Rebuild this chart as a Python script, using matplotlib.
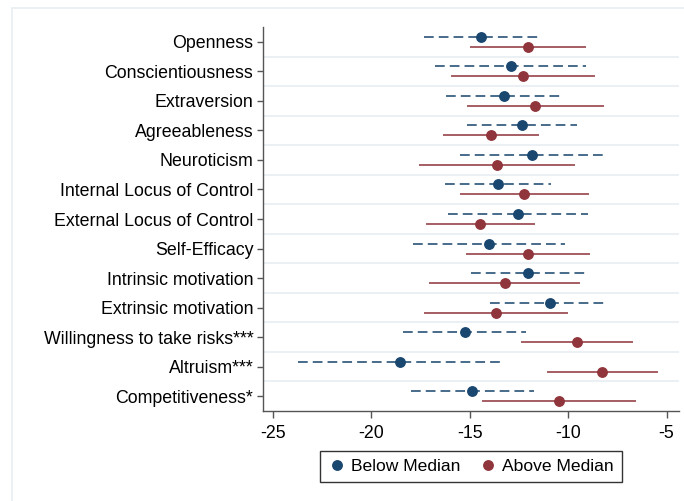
import matplotlib
matplotlib.use("Agg")
import matplotlib.pyplot as plt
from matplotlib.patches import Rectangle
from matplotlib.lines import Line2D

plt.rcParams['font.family'] = ['Liberation Sans', 'DejaVu Sans']

# traits, top to bottom
traits = ["Openness", "Conscientiousness", "Extraversion", "Agreeableness",
          "Neuroticism", "Internal Locus of Control", "External Locus of Control",
          "Self-Efficacy", "Intrinsic motivation", "Extrinsic motivation",
          "Willingness to take risks***", "Altruism***", "Competitiveness*"]

# below median: estimate, ci low, ci high
below = [-14.43, -12.92, -13.26, -12.35, -11.84, -13.58, -12.57,
         -14.04, -12.03, -10.94, -15.26, -18.55, -14.89]
below_lo = [-17.33, -16.77, -16.23, -15.16, -15.50, -16.25, -16.09,
            -17.90, -14.96, -13.97, -18.41, -23.71, -17.97]
below_hi = [-11.50, -9.10, -10.37, -9.54, -8.18, -10.89, -9.00,
            -10.18, -9.13, -8.10, -12.13, -13.40, -11.76]

# above median
above = [-12.06, -12.30, -11.67, -13.92, -13.63, -12.23, -14.47,
         -12.06, -13.23, -13.68, -9.54, -8.28, -10.45]
above_lo = [-14.94, -15.90, -15.08, -16.30, -17.51, -15.43, -17.19,
            -15.13, -17.00, -17.29, -12.35, -11.03, -14.31]
above_hi = [-9.15, -8.71, -8.25, -11.53, -9.71, -8.98, -11.72,
            -8.96, -9.43, -10.08, -6.74, -5.50, -6.62]

xticks = [-25, -20, -15, -10, -5]

BLUE = "#1a476f"
RED = "#90353b"
GRID = "#e6eef1"

fig = plt.figure(figsize=(6.84, 5.01), dpi=100)
ax = fig.add_axes([263 / 684, 1 - 411 / 501, 416 / 684, 384 / 501])

n = len(traits)
off = 0.17
for i in range(n):
    yb = i - off
    yr = i + off
    ax.plot([below_lo[i], below_hi[i]], [yb, yb], color=BLUE, lw=1.4,
            ls=(0, (5, 2.6)), alpha=0.8, zorder=2)
    ax.plot([above_lo[i], above_hi[i]], [yr, yr], color=RED, lw=1.4,
            alpha=0.8, zorder=2)
    ax.plot(below[i], yb, "o", color=BLUE, ms=6.8, zorder=3)
    ax.plot(above[i], yr, "o", color=RED, ms=6.8, zorder=3)

# grid lines between categories
for i in range(n - 1):
    ax.axhline(i + 0.5, color=GRID, lw=1.2, zorder=1)

ax.set_ylim(n - 0.5, -0.5)
ax.set_xlim(-25.5, -4.37)
ax.set_yticks(range(n))
ax.set_yticklabels(traits, fontsize=12.8)
ax.set_xticks(xticks)
ax.set_xticklabels([str(t) for t in xticks], fontsize=12.8)

for s in ["top", "right"]:
    ax.spines[s].set_visible(False)
for s in ["left", "bottom"]:
    ax.spines[s].set_color("#555555")
    ax.spines[s].set_linewidth(1.0)
ax.tick_params(axis="y", length=4, width=1, color="#555555", pad=3)
ax.tick_params(axis="x", length=5, width=1, color="#555555", pad=5)

handles = [Line2D([], [], ls="none", marker="o", color=BLUE, ms=6.8),
           Line2D([], [], ls="none", marker="o", color=RED, ms=6.8)]
leg = fig.legend(handles, ["Below Median", "Above Median"], ncol=2,
                 loc="center", bbox_to_anchor=(471 / 684, 1 - 466.5 / 501),
                 fontsize=12.6, frameon=True, fancybox=False,
                 handletextpad=0.3, columnspacing=1.1, borderpad=0.45,
                 handlelength=1.0)
leg.get_frame().set_edgecolor("black")
leg.get_frame().set_linewidth(1.0)

# faint outer graph border
fig.patches.append(Rectangle((12 / 684, -0.1), 1.0, 1 - 8 / 501 + 0.1,
                             transform=fig.transFigure, fill=False,
                             edgecolor=GRID, lw=1.2, zorder=0))
# cut-off title remnant at the top edge
fig.text(395 / 684, 1.016, "y", fontsize=14, ha="center", va="center",
         style="italic")

fig.savefig("out.png", dpi=100)
